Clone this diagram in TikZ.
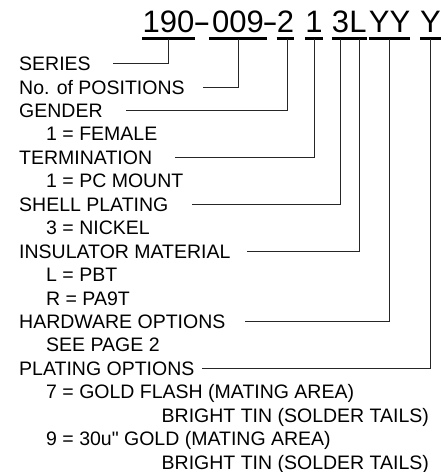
\documentclass[tikz,border=0pt]{standalone}
\usepackage{fontspec}
\setmainfont{Liberation Sans}
\newfontfamily\qfont{Liberation Sans}[Ligatures=TeXOff]
\begin{document}
\begin{tikzpicture}[x=1pt,y=-1pt,
  lbl/.style={anchor=west,inner sep=0pt,text height=14pt,text depth=0pt,font=\fontsize{19.5}{21}\selectfont},
  seg/.style={anchor=base,inner xsep=0pt,inner ysep=6.5pt,text depth=0pt,font=\fontsize{31}{32}\selectfont},
  hyph/.style={anchor=base,inner sep=0pt,font=\fontsize{31}{32}\selectfont},
  ul/.style={line width=3pt},
  conn/.style={line width=0.9pt,draw=black!85}
]
\useasboundingbox (0,0) rectangle (440,472);
% part number segments
\node[seg,minimum width=49pt] (s1) at (168.5,32) {190};
\node[hyph] (h1) at (202,32) {\scalebox{1.7}[1]{-}};
\node[seg,minimum width=58pt] (s2) at (238,32) {009};
\node[hyph] (h2) at (270,32) {\scalebox{1.5}[1]{-}};
\node[seg,minimum width=15pt] (s3) at (285.5,32) {2};
\node[seg,minimum width=14pt] (s4) at (314,32) {1};
\node[seg,minimum width=15pt] (s5) at (340.5,32) {3};
\node[seg,minimum width=15pt] (s6) at (358,32) {L};
\node[seg,minimum width=35pt] (s7) at (389.5,32) {YY};
\node[seg,minimum width=15pt] (s8) at (430.5,32) {Y};
\foreach \s in {s1,s2,s3,s4,s5,s6,s7,s8}
  \draw[ul] (\s.south west) -- (\s.south east);
% labels
\node[lbl] (series) at (19,63.5) {SERIES};
\node[lbl] (pos) at (19,87) {No. of POSITIONS};
\node[lbl] (gender) at (19,110.4) {GENDER};
\node[lbl] (gender1) at (46,133.9) {1 = FEMALE};
\node[lbl] (term) at (19,157.3) {TERMINATION};
\node[lbl] (term1) at (46,180.8) {1 = PC MOUNT};
\node[lbl] (shell) at (19,204.2) {SHELL PLATING};
\node[lbl] (shell3) at (46,227.7) {3 = NICKEL};
\node[lbl] (ins) at (19,251.1) {INSULATOR MATERIAL};
\node[lbl] (insL) at (46,274.6) {L = PBT};
\node[lbl] (insR) at (46,298) {R = PA9T};
\node[lbl] (hw) at (19,321.5) {HARDWARE OPTIONS};
\node[lbl] (hw1) at (46,344.9) {SEE PAGE 2};
\node[lbl] (plat) at (19,368.4) {PLATING OPTIONS};
\node[lbl] (plat7) at (46,391.8) {7 = GOLD FLASH (MATING AREA)};
\node[lbl] (plat7b) at (161.5,415.3) {BRIGHT TIN (SOLDER TAILS)};
\node[lbl] (plat9) at (46,438.7) {9 = 30u{\qfont"} GOLD (MATING AREA)};
\node[lbl] (plat9b) at (161.5,462.2) {BRIGHT TIN (SOLDER TAILS)};
% connector start points
\coordinate (c1) at (113,63.5);
\coordinate (c2) at (203,87);
\coordinate (c3) at (126,110.4);
\coordinate (c4) at (175,157.3);
\coordinate (c5) at (192,204.2);
\coordinate (c6) at (247,251.1);
\coordinate (c7) at (245,321.5);
\coordinate (c8) at (202,368.4);
% connectors
\draw[conn] (c1) -| (s1.south);
\draw[conn] (c2) -| (s2.south);
\draw[conn] (c3) -| ([xshift=1.5pt]s3.south);
\draw[conn] (c4) -| (s4.south);
\draw[conn] (c5) -| (s5.south);
\draw[conn] (c6) -| ([xshift=1.5pt]s6.south);
\draw[conn] (c7) -| ([xshift=-0.5pt]s7.south);
\draw[conn] (c8) -| (s8.south);
\end{tikzpicture}
\end{document}
